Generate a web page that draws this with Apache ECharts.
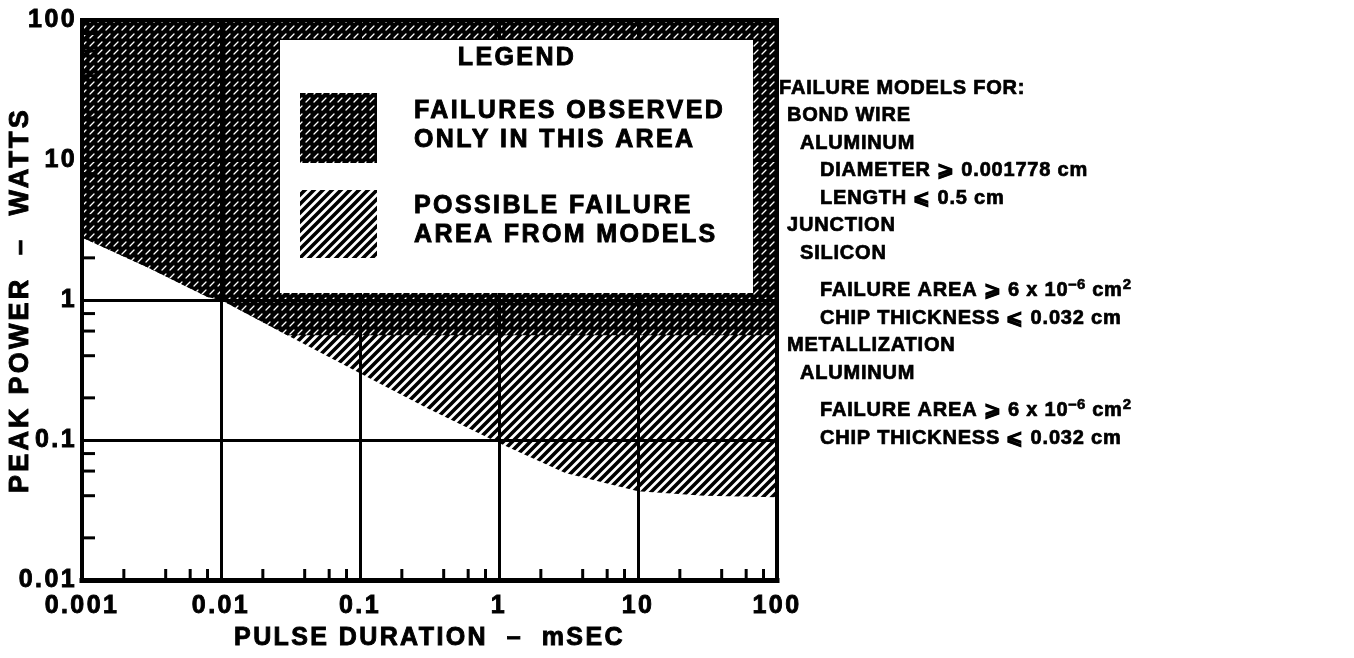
<!DOCTYPE html>
<html>
<head>
<meta charset="utf-8">
<script src="https://cdn.jsdelivr.net/npm/echarts@6/dist/echarts.min.js"></script>
<style>
  html, body { margin: 0; padding: 0; background: #fff; }
  #chart { width: 1354px; height: 658px; }
</style>
</head>
<body>
<div id="chart"></div>
<script>
// ---- axis ranges and labels ----
const pulseMin = 0.001, pulseMax = 100;     // mSEC
const powerMin = 0.01, powerMax = 100;      // WATTS
const xTickLabels = ['0.001', '0.01', '0.1', '1', '10', '100'];
const yTickLabels = ['0.01', '0.1', '1', '10', '100'];
const xMinorTicks = [0.002, 0.004, 0.006, 0.008, 0.02, 0.04, 0.06, 0.08, 0.2, 0.4, 0.6, 0.8,
                     2, 4, 6, 8, 20, 40, 60, 80];
const yMinorTicks = [0.02, 0.04, 0.06, 0.08, 0.2, 0.4, 0.6, 0.8, 2, 4, 6, 8, 20, 40, 60, 80];
const xTitle = 'PULSE DURATION  –  mSEC';
const yTitle = 'PEAK POWER  –  WATTS';

// ---- lower edge of the possible failure area from the models ----
const modelPulse = [0.001, 0.003, 0.008, 0.01, 0.03, 0.1, 0.3, 1, 3, 10, 30, 100];
const modelPower = [2.8, 1.7, 1.05, 1.0, 0.56, 0.30, 0.17, 0.095, 0.058, 0.043, 0.040, 0.039];

// ---- lower edge of the area where failures were observed ----
const observedPulse = [0.001, 0.003, 0.008, 0.01, 0.03, 100];
const observedPower = [2.8, 1.7, 1.05, 1.0, 0.56, 0.56];

// ---- legend and notes ----
const legendTitle = 'LEGEND';
const legendObserved = ['FAILURES OBSERVED', 'ONLY IN THIS AREA'];
const legendModels = ['POSSIBLE FAILURE', 'AREA FROM MODELS'];
const noteLines = [
  ['FAILURE MODELS FOR:', 0],
  ['BOND WIRE', 1],
  ['ALUMINUM', 2],
  ['DIAMETER ⩾ 0.001778 cm', 3],
  ['LENGTH ⩽ 0.5 cm', 3],
  ['JUNCTION', 1],
  ['SILICON', 2],
  ['FAILURE AREA ⩾ 6 x 10{sup|–6} cm{sup|2}', 3],
  ['CHIP THICKNESS ⩽ 0.032 cm', 3],
  ['METALLIZATION', 1],
  ['ALUMINUM', 2],
  ['FAILURE AREA ⩾ 6 x 10{sup|–6} cm{sup|2}', 3],
  ['CHIP THICKNESS ⩽ 0.032 cm', 3]
];

// Typewriter-style tracking, chosen per font size; measuring and drawing use the same value
const TRACKING = { 25: 2.4, 27: 3.2, 20: 0.8, 15: 0.4 };
(function () {
  const proto = CanvasRenderingContext2D.prototype;
  const wrap = (fn) => function () {
    const m = /(\d+(?:\.\d+)?)px/.exec(this.font || '');
    const sp = m && TRACKING[Math.round(+m[1])];
    this.letterSpacing = (sp || 0) + 'px';
    return fn.apply(this, arguments);
  };
  proto.fillText = wrap(proto.fillText);
  proto.strokeText = wrap(proto.strokeText);
  proto.measureText = wrap(proto.measureText);
})();

// ---- hatch patterns ----
function lightHatch() {
  const s = 9, c = document.createElement('canvas');
  c.width = s; c.height = s;
  const g = c.getContext('2d');
  g.fillStyle = '#fff'; g.fillRect(0, 0, s, s);
  g.strokeStyle = '#000'; g.lineWidth = 3.6;
  g.beginPath();
  g.moveTo(-s, s); g.lineTo(s, -s);
  g.moveTo(0, s); g.lineTo(s, 0);
  g.moveTo(0, 2 * s); g.lineTo(2 * s, 0);
  g.stroke();
  return { image: c, repeat: 'repeat' };
}
function denseHatch() {
  const s = 8, c = document.createElement('canvas');
  c.width = s; c.height = s;
  const g = c.getContext('2d');
  g.fillStyle = '#000'; g.fillRect(0, 0, s, s);
  g.strokeStyle = '#fff'; g.lineWidth = 1.3; g.lineCap = 'round';
  g.beginPath(); g.moveTo(2, 6); g.lineTo(6, 2); g.stroke();
  return { image: c, repeat: 'repeat' };
}
const lightFill = lightHatch();
const denseFill = denseHatch();

const FONT = "'Liberation Sans', Arial, Helvetica, sans-serif";
const heavy = { textBorderColor: '#000', textBorderWidth: 0.9 };
const labelStyle = { color: '#000', fontFamily: FONT, fontWeight: 'bold', fontSize: 25, ...heavy };
const font = (size) => 'bold ' + size + 'px ' + FONT;

function areaBelowTop(name, xs, ys, pattern, z) {
  return {
    name, type: 'line', z, silent: true, symbol: 'none',
    xAxisIndex: 0, yAxisIndex: 0,
    data: xs.map((x, i) => [x, ys[i]]),
    lineStyle: { width: 0, opacity: 0 },
    areaStyle: { origin: powerMax, color: pattern, opacity: 1 }
  };
}

function tickSeries(values, horizontal) {
  return {
    type: 'custom', z: 12, silent: true, xAxisIndex: 0, yAxisIndex: 0,
    data: values.map(v => horizontal ? [v, powerMin] : [pulseMin, v]),
    renderItem(params, api) {
      const p = api.coord([api.value(0), api.value(1)]);
      const end = horizontal ? [p[0], p[1] - 11] : [p[0] + 13, p[1]];
      return { type: 'line', shape: { x1: p[0], y1: p[1], x2: end[0], y2: end[1] },
               style: { stroke: '#000', lineWidth: 3 } };
    }
  };
}

const axisLineBlack = (w) => ({ show: true, onZero: false, lineStyle: { color: '#000', width: w, cap: 'square' } });
const splitBlack = { show: true, lineStyle: { color: '#000', width: 3 } };

// ---- legend box and notes (drawn above the plot) ----
const textStyle = (text, size, align) => ({
  text, font: font(size), fill: '#000', align, verticalAlign: 'middle',
  stroke: '#000', lineWidth: 0.9
});
const graphics = [
  { type: 'rect', z: 100, shape: { x: 280, y: 40, width: 473, height: 253 }, style: { fill: '#fff' } },
  { type: 'rect', z: 101, shape: { x: 300, y: 93, width: 77, height: 70 }, style: { fill: denseFill } },
  { type: 'rect', z: 101, shape: { x: 300, y: 190, width: 77, height: 68 }, style: { fill: lightFill } },
  { type: 'text', z: 101, x: 517, y: 58, style: textStyle(legendTitle, 25, 'center') }
];
legendObserved.concat(legendModels).forEach((t, i) => {
  graphics.push({ type: 'text', z: 101, x: 414, y: [111, 140, 206, 235][i], style: textStyle(t, 25, 'left') });
});
const indents = [779, 787, 800, 820];
let noteY = 88;
noteLines.forEach(([t, level], i) => {
  if (i > 0) noteY += 27.5;
  if (t.indexOf('{sup|') >= 0) noteY += 10;   // room for the superscripts
  const st = textStyle(t, 20, 'left');
  st.lineWidth = 0.7;
  st.lineHeight = 26;
  st.rich = { sup: { font: font(15), lineHeight: 12, verticalAlign: 'top', fill: '#000', stroke: '#000', lineWidth: 0.6 } };
  graphics.push({ type: 'text', z: 101, x: indents[level], y: noteY, style: st });
});

const chart = echarts.init(document.getElementById('chart'), null, { renderer: 'canvas', width: 1354, height: 658 });
chart.setOption({
  animation: false,
  backgroundColor: '#fff',
  grid: { left: 82, top: 20, width: 695, height: 560, show: false, containLabel: false, outerBoundsMode: 'none' },
  xAxis: [
    { type: 'log', logBase: 10, min: pulseMin, max: pulseMax, splitNumber: 5, z: 10,
      name: xTitle, nameLocation: 'middle', nameGap: 44, nameMoveOverlap: false, nameTextStyle: labelStyle,
      axisLine: axisLineBlack(5), axisTick: { show: false },
      axisLabel: { ...labelStyle, margin: 12,
        formatter: v => xTickLabels[Math.round(Math.log10(v)) + 3] },
      splitLine: splitBlack },
    { type: 'log', logBase: 10, min: pulseMin, max: pulseMax, position: 'top', z: 10,
      axisLine: axisLineBlack(4), axisTick: { show: false }, axisLabel: { show: false },
      splitLine: { show: false } }
  ],
  yAxis: [
    { type: 'log', logBase: 10, min: powerMin, max: powerMax, splitNumber: 4, z: 10,
      name: yTitle, nameLocation: 'middle', nameGap: 46, nameRotate: 90, nameMoveOverlap: false,
      nameTextStyle: { ...labelStyle, fontSize: 27 },
      axisLine: axisLineBlack(4), axisTick: { show: false },
      axisLabel: { ...labelStyle, margin: 5,
        formatter: v => yTickLabels[Math.round(Math.log10(v)) + 2] },
      splitLine: splitBlack },
    { type: 'log', logBase: 10, min: powerMin, max: powerMax, position: 'right', z: 10,
      axisLine: axisLineBlack(4), axisTick: { show: false }, axisLabel: { show: false },
      splitLine: { show: false } }
  ],
  series: [
    areaBelowTop('POSSIBLE FAILURE AREA FROM MODELS', modelPulse, modelPower, lightFill, 2),
    areaBelowTop('FAILURES OBSERVED ONLY IN THIS AREA', observedPulse, observedPower, denseFill, 3),
    tickSeries(xMinorTicks, true),
    tickSeries(yMinorTicks, false)
  ],
  graphic: graphics
});
</script>
</body>
</html>
